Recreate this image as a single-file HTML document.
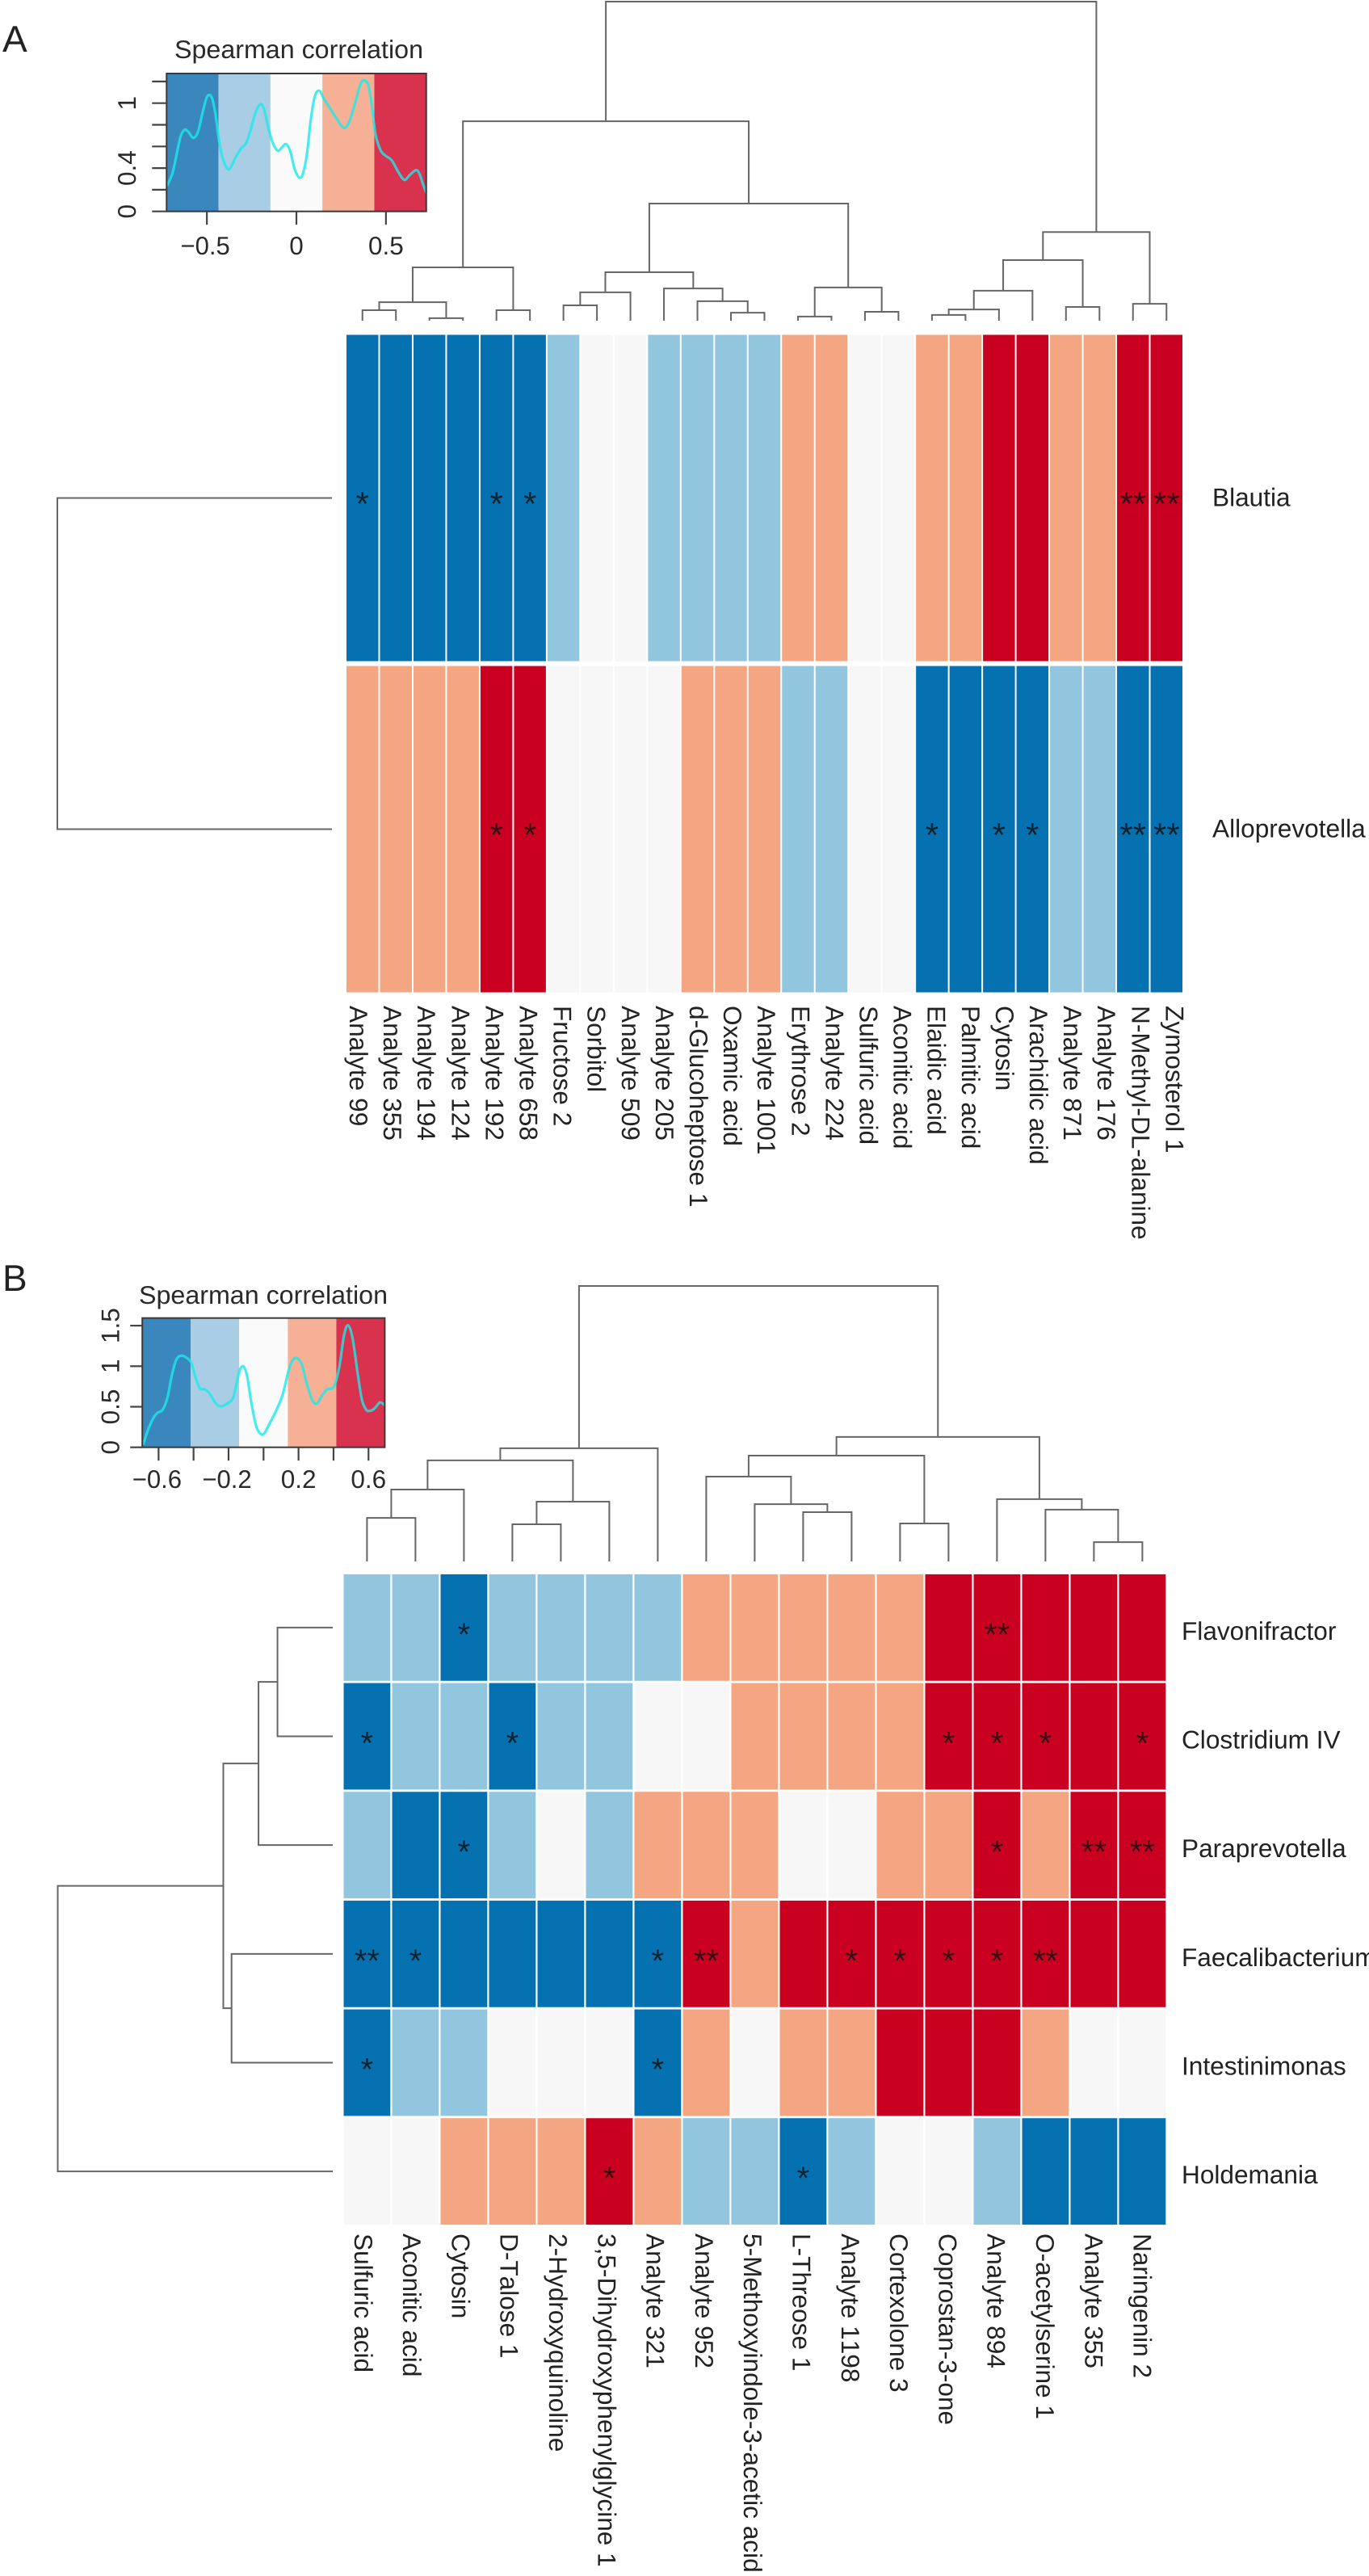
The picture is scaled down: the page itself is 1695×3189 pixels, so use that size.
<!DOCTYPE html>
<html lang="en">
<head>
<meta charset="utf-8">
<title>Spearman correlation heatmaps</title>
<style>
html,body{margin:0;padding:0;background:#fff;}
svg{display:block;font-family:"Liberation Sans",Arial,sans-serif;text-rendering:geometricPrecision;font-kerning:none;}
</style>
</head>
<body>
<svg id="figure" xmlns="http://www.w3.org/2000/svg" width="1695" height="3189" viewBox="0 0 1695 3189">
  <rect x="0" y="0" width="1695" height="3189" fill="#ffffff"/>
  <text x="3" y="64" font-size="46" fill="#222">A</text>
  <text x="3" y="1598" font-size="46" fill="#222">B</text>
  <text x="216" y="72" font-size="31.5" textLength="308" lengthAdjust="spacingAndGlyphs" fill="#2a2a2a">Spearman correlation</text>
  <text x="172" y="1614" font-size="31.5" textLength="308" lengthAdjust="spacingAndGlyphs" fill="#2a2a2a">Spearman correlation</text>
</svg>
<script>
// ---------- Panel A data ----------
const rowsA = ["Blautia", "Alloprevotella"];
const colsA = ["Analyte 99","Analyte 355","Analyte 194","Analyte 124","Analyte 192","Analyte 658","Fructose 2","Sorbitol","Analyte 509","Analyte 205","d-Glucoheptose 1","Oxamic acid","Analyte 1001","Erythrose 2","Analyte 224","Sulfuric acid","Aconitic acid","Elaidic acid","Palmitic acid","Cytosin","Arachidic acid","Analyte 871","Analyte 176","N-Methyl-DL-alanine","Zymosterol 1"];
const levelsA = [
  [-2,-2,-2,-2,-2,-2,-1,0,0,-1,-1,-1,-1,1,1,0,0,1,1,2,2,1,1,2,2],
  [1,1,1,1,2,2,0,0,0,0,1,1,1,-1,-1,0,0,-2,-2,-2,-2,-1,-1,-2,-2]
];
const starsA = [
  ["*","","","","*","*","","","","","","","","","","","","","","","","","","**","**"],
  ["","","","","*","*","","","","","","","","","","","","*","","*","*","","","**","**"]
];
// hclust-style merges: negative = leaf (1-based), positive = earlier merge (1-based)
const colMergesA = [[-1,-2],[-3,-4],[1,2],[-5,-6],[3,4],[-7,-8],[6,-9],[-12,-13],[-11,8],[-10,9],[7,10],[-14,-15],[-16,-17],[12,13],[11,14],[5,15],[-18,-19],[17,-20],[18,-21],[-22,-23],[19,20],[-24,-25],[21,22],[16,23]];
const colHeightsA = [0.33,0.08,0.58,0.33,1.67,0.48,0.89,0.25,0.61,1.01,1.52,0.13,0.28,1.04,3.67,6.25,0.18,0.35,0.94,0.43,1.90,0.53,2.78,10];
const rowMergesA = [[-1,-2]];
const rowHeightsA = [10];
const densXA = [-0.723,-0.693,-0.671,-0.648,-0.625,-0.603,-0.576,-0.550,-0.528,-0.505,-0.490,-0.471,-0.453,-0.435,-0.415,-0.392,-0.374,-0.355,-0.332,-0.310,-0.280,-0.257,-0.227,-0.200,-0.179,-0.155,-0.129,-0.104,-0.081,-0.059,-0.035,-0.009,0.018,0.039,0.059,0.081,0.104,0.129,0.152,0.186,0.224,0.266,0.296,0.329,0.356,0.377,0.401,0.419,0.442,0.472,0.502,0.532,0.570,0.603,0.633,0.668,0.687,0.705,0.725];
const densYA = [0.236,0.348,0.510,0.684,0.754,0.734,0.679,0.734,0.883,1.032,1.075,1.045,0.908,0.684,0.510,0.410,0.391,0.448,0.522,0.580,0.634,0.746,0.920,0.990,0.933,0.759,0.622,0.560,0.590,0.622,0.560,0.386,0.311,0.361,0.535,0.858,1.070,1.114,1.045,0.958,0.858,0.771,0.833,1.007,1.169,1.211,1.169,1.007,0.709,0.560,0.510,0.473,0.361,0.291,0.336,0.381,0.348,0.261,0.174];
const xTicksA = [-0.5,0,0.5];
const xTickLabelsA = ["\u22120.5","0","0.5"];
const yTicksA = [0,0.2,0.4,0.6,0.8,1,1.2];
const yTickLabelsA = ["0","","0.4","","","1",""];
const breaksA = [-0.725,-0.435,-0.145,0.145,0.435,0.725];

// ---------- Panel B data ----------
const rowsB = ["Flavonifractor","Clostridium IV","Paraprevotella","Faecalibacterium","Intestinimonas","Holdemania"];
const colsB = ["Sulfuric acid","Aconitic acid","Cytosin","D-Talose 1","2-Hydroxyquinoline","3,5-Dihydroxyphenylglycine 1","Analyte 321","Analyte 952","5-Methoxyindole-3-acetic acid","L-Threose 1","Analyte 1198","Cortexolone 3","Coprostan-3-one","Analyte 894","O-acetylserine 1","Analyte 355","Naringenin 2"];
const levelsB = [
  [-1,-1,-2,-1,-1,-1,-1,1,1,1,1,1,2,2,2,2,2],
  [-2,-1,-1,-2,-1,-1,0,0,1,1,1,1,2,2,2,2,2],
  [-1,-2,-2,-1,0,-1,1,1,1,0,0,1,1,2,1,2,2],
  [-2,-2,-2,-2,-2,-2,-2,2,1,2,2,2,2,2,2,2,2],
  [-2,-1,-1,0,0,0,-2,1,0,1,1,2,2,2,1,0,0],
  [0,0,1,1,1,2,1,-1,-1,-2,-1,0,0,-1,-2,-2,-2]
];
const starsB = [
  ["","","*","","","","","","","","","","","**","","",""],
  ["*","","","*","","","","","","","","","*","*","*","","*"],
  ["","","*","","","","","","","","","","","*","","**","**"],
  ["**","*","","","","","*","**","","","*","*","*","*","**","",""],
  ["*","","","","","","*","","","","","","","","","",""],
  ["","","","","","*","","","","*","","","","","","",""]
];
const colMergesB = [[-1,-2],[1,-3],[-4,-5],[3,-6],[2,4],[5,-7],[-10,-11],[-9,7],[-8,8],[-12,-13],[9,10],[-16,-17],[-15,12],[-14,13],[11,14],[6,15]];
const colHeightsB = [1.58,2.61,1.35,2.17,3.67,4.11,1.79,2.08,3.08,1.38,3.84,0.70,1.88,2.26,4.52,10];
const rowMergesB = [[-1,-2],[1,-3],[-4,-5],[2,3],[4,-6]];
const rowHeightsB = [2.01,2.70,3.68,3.98,10];
const densXB = [-0.688,-0.660,-0.629,-0.606,-0.576,-0.549,-0.525,-0.499,-0.472,-0.445,-0.414,-0.391,-0.365,-0.337,-0.309,-0.275,-0.248,-0.214,-0.175,-0.152,-0.134,-0.114,-0.094,-0.072,-0.045,-0.022,0.002,0.032,0.071,0.109,0.143,0.168,0.194,0.220,0.248,0.279,0.305,0.332,0.363,0.402,0.432,0.460,0.483,0.509,0.540,0.563,0.586,0.605,0.633,0.666,0.693];
const densYB = [0.033,0.216,0.365,0.425,0.465,0.614,0.880,1.079,1.129,1.112,1.046,0.880,0.730,0.714,0.664,0.548,0.505,0.531,0.604,0.813,0.963,0.996,0.880,0.581,0.282,0.176,0.166,0.282,0.448,0.647,0.946,1.079,1.096,1.013,0.780,0.581,0.538,0.631,0.714,0.747,0.979,1.378,1.504,1.345,0.880,0.581,0.465,0.448,0.475,0.554,0.515];
const xTicksB = [-0.6,-0.4,-0.2,0,0.2,0.4,0.6];
const xTickLabelsB = ["\u22120.6","","\u22120.2","","0.2","","0.6"];
const yTicksB = [0,0.5,1,1.5];
const yTickLabelsB = ["0","0.5","1","1.5"];
const breaksB = [-0.693,-0.416,-0.139,0.139,0.416,0.693];

// ---------- Styling ----------
const levelColors = {"-2":"#0571b0","-1":"#92c5de","0":"#f7f7f7","1":"#f4a582","2":"#ca0020"};
const bandColors = ["#3a87bd","#a8cde4","#fafafa","#f5b096","#d8324e"];
const SVGNS = "http://www.w3.org/2000/svg";
const svg = document.getElementById("figure");

// Helvetica advance widths (per 1000 em), used to fit labels to the reference's text lengths
const AFM = {" ":278,",":278,"-":333,".":278,"\u2212":556,
  A:667,B:667,C:722,D:722,E:667,F:611,G:778,H:722,I:278,J:500,K:667,L:556,M:833,N:722,O:778,P:667,Q:778,R:722,S:667,T:611,U:722,V:667,W:944,X:667,Y:667,Z:611,
  a:556,b:556,c:500,d:556,e:556,f:278,g:556,h:556,i:222,j:222,k:500,l:222,m:833,n:556,o:556,p:556,q:556,r:333,s:500,t:278,u:556,v:500,w:722,x:500,y:500,z:500};
function fitLen(str, size) {
  let w = 0;
  for (const ch of str) w += (AFM[ch] !== undefined ? AFM[ch] : 556);
  return (w / 1000 * size).toFixed(1);
}

function mk(tag, attrs, text) {
  const n = document.createElementNS(SVGNS, tag);
  for (const k in attrs) n.setAttribute(k, attrs[k]);
  if (text !== undefined) n.textContent = text;
  svg.appendChild(n);
  return n;
}

function drawHeatmap(L, levels, stars, rows, cols) {
  const cw = L.w / cols.length;
  const rh = L.h / rows.length;
  const sx = i => L.x + cw * i;
  const sy = j => L.y + rh * j;
  levels.forEach((row, j) => {
    row.forEach((v, i) => {
      const cell = mk("rect", {x: sx(i) + L.colGap / 2, y: sy(j) + L.rowGap / 2, width: cw - L.colGap, height: rh - L.rowGap, fill: levelColors[v]});
      
      
    });
  });
  stars.forEach((row, j) => {
    row.forEach((s, i) => {
      if (!s) return;
      const star = mk("text", {x: sx(i) + cw / 2, y: sy(j) + rh / 2 + L.starDy, "font-size": L.starSize, "text-anchor": "middle", fill: "#101010", "fill-opacity": 0.8}, s);
      
      
    });
  });
  rows.forEach((name, j) => {
    const t = mk("text", {x: L.rowLabelX, y: sy(j) + rh / 2 + L.rowLabelDy, "font-size": 31.5, textLength: fitLen(name, 31.6), lengthAdjust: "spacingAndGlyphs", fill: "#222"}, name);
    
    
  });
  cols.forEach((name, i) => {
    const bx = L.colLabelX0 + L.colLabelStep * i;
    const t = mk("text", {x: 0, y: 0, transform: "translate(" + bx + " " + L.colLabelY + ") rotate(90)", "font-size": 31.5, textLength: fitLen(name, 31.6), lengthAdjust: "spacingAndGlyphs", fill: "#222"}, name);
    
    
  });
}

function layoutDend(merges, heights, leafPos) {
  const nodes = [];
  const at = id => id < 0 ? {p: leafPos(-id - 1), h: 0} : nodes[id - 1];
  merges.forEach((m, k) => {
    const a = at(m[0]), b = at(m[1]);
    nodes.push({a: a, b: b, h: heights[k], p: (a.p + b.p) / 2});
  });
  return nodes;
}

function drawColDend(merges, heights, cols, L) {
  const cw = L.w / cols.length;
  const px = i => L.x + cw * (i + 0.5);
  const hy = h => L.dendBase - h * L.dendScale;
  layoutDend(merges, heights, px).forEach(n => {
    const d = "M" + n.a.p + " " + hy(n.a.h) + "V" + hy(n.h) + "H" + n.b.p + "V" + hy(n.b.h);
    const p = mk("path", {d: d, fill: "none", stroke: "#666", "stroke-width": 2});
    
    
  });
}

function drawRowDend(merges, heights, rows, L) {
  const rh = L.h / rows.length;
  const py = j => L.y + rh * (j + 0.5);
  const hx = h => L.rowDendBase - h * L.rowDendScale;
  layoutDend(merges, heights, py).forEach(n => {
    const d = "M" + hx(n.a.h) + " " + n.a.p + "H" + hx(n.h) + "V" + n.b.p + "H" + hx(n.b.h);
    const p = mk("path", {d: d, fill: "none", stroke: "#666", "stroke-width": 2});
    
    
  });
}

function smoothPath(pts) {
  let d = "M" + pts[0][0].toFixed(1) + " " + pts[0][1].toFixed(1);
  for (let i = 0; i < pts.length - 1; i++) {
    const p0 = pts[Math.max(0, i - 1)], p1 = pts[i], p2 = pts[i + 1], p3 = pts[Math.min(pts.length - 1, i + 2)];
    const c1x = p1[0] + (p2[0] - p0[0]) / 6, c1y = p1[1] + (p2[1] - p0[1]) / 6;
    const c2x = p2[0] - (p3[0] - p1[0]) / 6, c2y = p2[1] - (p3[1] - p1[1]) / 6;
    d += "C" + c1x.toFixed(1) + " " + c1y.toFixed(1) + " " + c2x.toFixed(1) + " " + c2y.toFixed(1) + " " + p2[0].toFixed(1) + " " + p2[1].toFixed(1);
  }
  return d;
}

function drawLegend(L, breaks, densX, densY, xTicks, xLabels, yTicks, yLabels) {
  const sx = v => L.x0 + L.kx * v;
  const sy = v => L.y0 - L.ky * v;
  const top = L.top, bottom = L.y0;
  const left = sx(breaks[0]), right = sx(breaks[breaks.length - 1]);
  for (let i = 0; i < breaks.length - 1; i++) {
    const band = mk("rect", {x: sx(breaks[i]), y: top, width: sx(breaks[i + 1]) - sx(breaks[i]), height: bottom - top, fill: bandColors[i]});
    
    
  }
  const pts = densX.map((v, i) => [sx(v), sy(densY[i])]);
  const curve = mk("path", {d: smoothPath(pts), fill: "none", stroke: "#1aeaea", "stroke-width": 3.2, "stroke-opacity": 0.8, "stroke-linejoin": "round"});
  
  
  const box = mk("rect", {x: left, y: top, width: right - left, height: bottom - top, fill: "none", stroke: "#3a3a3a", "stroke-width": 2});
  
  
  xTicks.forEach((v, i) => {
    const tick = mk("line", {x1: sx(v), x2: sx(v), y1: bottom, y2: bottom + 16.5, stroke: "#444", "stroke-width": 2.2});
    
    
    if (xLabels[i]) {
      const t = mk("text", {x: sx(v) - (v < 0 ? 2 : 0), y: L.xLabelY, "font-size": 31.5, "text-anchor": "middle", textLength: fitLen(xLabels[i], 31.5), lengthAdjust: "spacingAndGlyphs", fill: "#2a2a2a"}, xLabels[i]);
      
      
    }
  });
  yTicks.forEach((v, i) => {
    const tick = mk("line", {x1: left, x2: left - L.yTickLen, y1: sy(v), y2: sy(v), stroke: "#444", "stroke-width": 2.2});
    
    
    if (yLabels[i]) {
      const t = mk("text", {x: 0, y: 0, transform: "translate(" + L.yLabelX + " " + sy(v) + ") rotate(-90)", "font-size": 31.5, "text-anchor": "middle", textLength: fitLen(yLabels[i], 31.5), lengthAdjust: "spacingAndGlyphs", fill: "#2a2a2a"}, yLabels[i]);
      
      
    }
  });
}

// ---------- Layouts ----------
const layoutA = {x: 428, y: 411.5, w: 1037, h: 820, colGap: 2, rowGap: 6, starSize: 42, starDy: 21.5, rowLabelX: 1501, rowLabelDy: 10, colLabelX0: 433, colLabelStep: 42.1, colLabelY: 1245, dendBase: 397, dendScale: 39.5, rowDendBase: 411, rowDendScale: 34};
const layoutB = {x: 424.4, y: 1947.5, w: 1020, h: 808, colGap: 2.2, rowGap: 2.8, starSize: 40, starDy: 22, rowLabelX: 1463, rowLabelDy: 15, colLabelX0: 438.8, colLabelStep: 60.3, colLabelY: 2765, dendBase: 1933, dendScale: 34.1, rowDendBase: 412, rowDendScale: 34.05};
const legendA = {x0: 367, kx: 221.7, y0: 261.7, ky: 134, top: 91, xLabelY: 315, yLabelX: 168, yTickLen: 18};
const legendB = {x0: 326.3, kx: 216.6, y0: 1791.7, ky: 100.4, top: 1631.7, xLabelY: 1842, yLabelX: 147.5, yTickLen: 15};

drawColDend(colMergesA, colHeightsA, colsA, layoutA);
drawRowDend(rowMergesA, rowHeightsA, rowsA, layoutA);
drawHeatmap(layoutA, levelsA, starsA, rowsA, colsA);
drawLegend(legendA, breaksA, densXA, densYA, xTicksA, xTickLabelsA, yTicksA, yTickLabelsA);

drawColDend(colMergesB, colHeightsB, colsB, layoutB);
drawRowDend(rowMergesB, rowHeightsB, rowsB, layoutB);
drawHeatmap(layoutB, levelsB, starsB, rowsB, colsB);
drawLegend(legendB, breaksB, densXB, densYB, xTicksB, xTickLabelsB, yTicksB, yTickLabelsB);
</script>
</body>
</html>
